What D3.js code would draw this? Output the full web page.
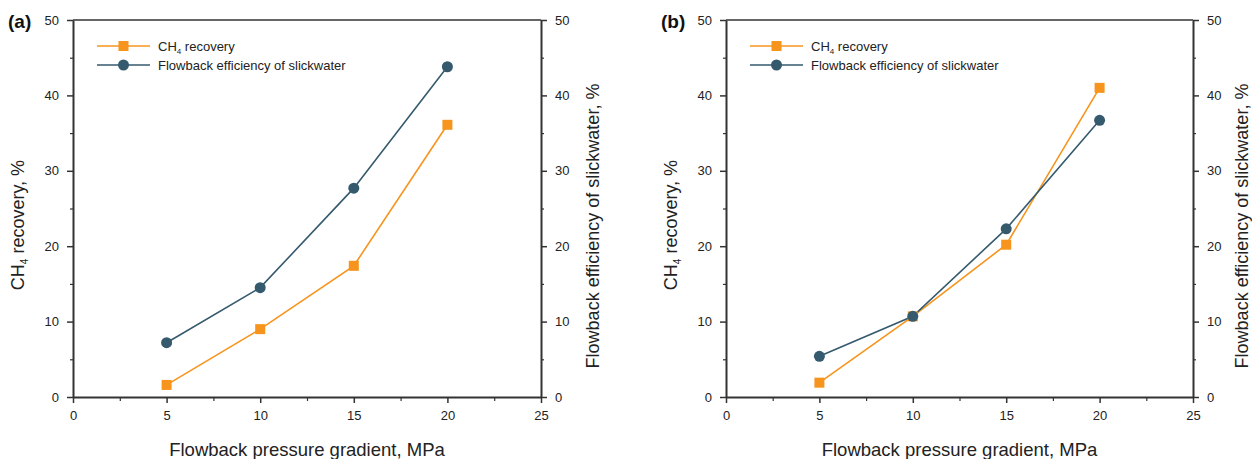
<!DOCTYPE html>
<html><head><meta charset="utf-8">
<script src="https://cdn.jsdelivr.net/npm/d3@7"></script>
<style>body{margin:0;background:#fff;font-family:"Liberation Sans",Arial,sans-serif;}</style>
</head><body><svg id="c" width="1252" height="459"></svg>
<script>
const pressure = [5, 10, 15, 20];
const ch4A = [1.6, 9.0, 17.4, 36.1];
const flowA = [7.2, 14.5, 27.7, 43.8];
const ch4B = [1.9, 10.7, 20.2, 41.0];
const flowB = [5.4, 10.7, 22.3, 36.7];
const xTicks = [0, 5, 10, 15, 20, 25];
const yTicks = [0, 10, 20, 30, 40, 50];
const panelLabels = ["(a)", "(b)"];
const seriesNames = ["CH₄ recovery", "Flowback efficiency of slickwater"];

const orange = "#F7941D", blue = "#355A6E", axisCol = "#333";
const svg = d3.select("#c");

function panel(x0, x1, label, ch4, flow, rightLabelX) {
  const top = 20, bottom = 397;
  const x = d3.scaleLinear().domain([0, 25]).range([x0, x1]);
  const y = d3.scaleLinear().domain([0, 50]).range([bottom, top]);
  const g = svg.append("g");
  g.append("line").attr("x1", x0).attr("x2", x1).attr("y1", top).attr("y2", top)
    .attr("stroke", axisCol).attr("stroke-width", 1.6);
  const minorX = d3.range(2.5, 25, 5), minorY = d3.range(5, 50, 10);
  const styleAxis = (sel) => {
    sel.select(".domain").attr("stroke", axisCol).attr("stroke-width", 2);
    sel.selectAll(".tick line").attr("stroke", axisCol).attr("stroke-width", 1.5);
    sel.selectAll("text").attr("font-size", 13).attr("fill", "#222").attr("font-family", "Liberation Sans, Arial, sans-serif");
  };
  g.append("g").attr("transform", `translate(0,${bottom})`)
    .call(d3.axisBottom(x).tickValues(xTicks).tickSize(6).tickSizeOuter(0).tickPadding(8)).call(styleAxis);
  g.append("g").attr("transform", `translate(0,${bottom})`)
    .call(d3.axisBottom(x).tickValues(minorX).tickSize(4).tickFormat("")).call(s => { s.select(".domain").remove(); s.selectAll(".tick line").attr("stroke", axisCol).attr("stroke-width", 1.2); });
  g.append("g").attr("transform", `translate(${x0},0)`)
    .call(d3.axisLeft(y).tickValues(yTicks).tickSize(6).tickSizeOuter(0).tickPadding(8)).call(styleAxis);
  g.append("g").attr("transform", `translate(${x0},0)`)
    .call(d3.axisLeft(y).tickValues(minorY).tickSize(3).tickFormat("")).call(s => { s.select(".domain").remove(); s.selectAll(".tick line").attr("stroke", axisCol).attr("stroke-width", 1.2); });
  g.append("g").attr("transform", `translate(${x1},0)`)
    .call(d3.axisRight(y).tickValues(yTicks).tickSize(6).tickSizeOuter(0).tickPadding(8)).call(styleAxis);
  g.append("g").attr("transform", `translate(${x1},0)`)
    .call(d3.axisRight(y).tickValues(minorY).tickSize(3).tickFormat("")).call(s => { s.select(".domain").remove(); s.selectAll(".tick line").attr("stroke", axisCol).attr("stroke-width", 1.2); });

  const line = d3.line().x((d, i) => x(pressure[i])).y(d => y(d));
  g.append("path").datum(ch4).attr("d", line).attr("fill", "none").attr("stroke", orange).attr("stroke-width", 1.6);
  g.append("path").datum(flow).attr("d", line).attr("fill", "none").attr("stroke", blue).attr("stroke-width", 1.6);
  g.selectAll(".sq").data(ch4).enter().append("rect")
    .attr("x", (d, i) => x(pressure[i]) - 5).attr("y", d => y(d) - 5).attr("width", 10).attr("height", 10).attr("fill", orange);
  g.selectAll(".ci").data(flow).enter().append("circle")
    .attr("cx", (d, i) => x(pressure[i])).attr("cy", d => y(d)).attr("r", 5.5).attr("fill", blue);

  const lx = x0 + 24;
  [[orange, "sq", 46], [blue, "ci", 65]].forEach(([c, t, ly]) => {
    g.append("line").attr("x1", lx).attr("x2", lx + 53).attr("y1", ly).attr("y2", ly).attr("stroke", c).attr("stroke-width", 1.6);
    if (t === "sq") g.append("rect").attr("x", lx + 21.5).attr("y", ly - 5).attr("width", 10).attr("height", 10).attr("fill", c);
    else g.append("circle").attr("cx", lx + 26.5).attr("cy", ly).attr("r", 5.5).attr("fill", c);
  });
  const t1 = g.append("text").attr("x", lx + 61).attr("y", 51).attr("font-size", 13).attr("fill", "#222");
  t1.append("tspan").text("CH");
  t1.append("tspan").text("4").attr("font-size", 8).attr("dy", 3);
  t1.append("tspan").text(" recovery").attr("dy", -3);
  g.append("text").attr("x", lx + 61).attr("y", 70).attr("font-size", 13).attr("fill", "#222").text(seriesNames[1]);

  g.append("text").attr("x", x0 - 65).attr("y", 28).attr("font-size", 19).attr("font-weight", "bold").attr("fill", "#111").text(label);
  g.append("text").attr("x", (x0 + x1) / 2).attr("y", 456).attr("text-anchor", "middle").attr("font-size", 18.5).attr("fill", "#222").text("Flowback pressure gradient, MPa");
  const yl = g.append("text").attr("transform", `translate(${x0 - 49},225) rotate(-90)`).attr("text-anchor", "middle").attr("font-size", 18).attr("fill", "#222");
  yl.append("tspan").text("CH");
  yl.append("tspan").text("4").attr("font-size", 10).attr("dy", 4);
  yl.append("tspan").text(" recovery, %").attr("dy", -4);
  g.append("text").attr("transform", `translate(${rightLabelX},226) rotate(-90)`).attr("text-anchor", "middle").attr("font-size", 18).attr("fill", "#222").text("Flowback efficiency of slickwater, %");
}
panel(73, 541, panelLabels[0], ch4A, flowA, 599);
panel(726, 1193, panelLabels[1], ch4B, flowB, 1248);
</script></body></html>
